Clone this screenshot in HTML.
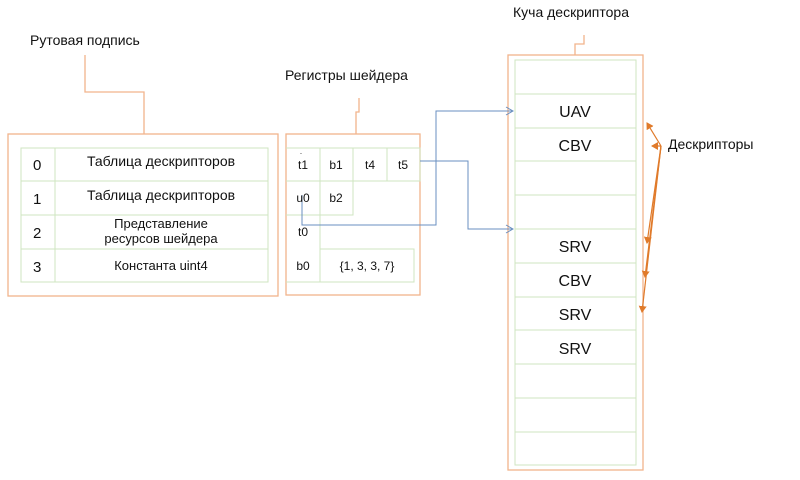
<!DOCTYPE html>
<html><head><meta charset="utf-8"><style>
body{margin:0;background:#fff;width:800px;height:475px;overflow:hidden}
svg text{font-family:"Liberation Sans",sans-serif;fill:#111}
</style></head><body>
<svg width="800" height="475" viewBox="0 0 800 475" xmlns="http://www.w3.org/2000/svg">
<defs>
<marker id="ba" markerWidth="10" markerHeight="10" refX="8" refY="5" orient="auto" markerUnits="userSpaceOnUse"><path d="M1,1 L8,5 L1,9" fill="none" stroke="#6a8fc0" stroke-width="1"/></marker>
<marker id="oa" markerWidth="8" markerHeight="8" refX="6" refY="4" orient="auto" markerUnits="userSpaceOnUse"><path d="M0,0 L7,4 L0,8 z" fill="#e07a2a"/></marker>
</defs>
<g fill="none" stroke="#f2b48c" stroke-width="1.3">
<rect x="8" y="134" width="270" height="162"/>
<rect x="286" y="134" width="134" height="161"/>
<rect x="508" y="55" width="135" height="415"/>
<path d="M85,55 V92 H144 V134"/>
<path d="M359,98 V112 H356 V134"/>
<path d="M584,35 V44 H575 V55"/>
</g>
<g fill="none" stroke="#cfe5c0" stroke-width="1">
<rect x="21" y="148" width="247" height="134"/>
<line x1="55" y1="148" x2="55" y2="282"/>
<line x1="21" y1="181" x2="268" y2="181"/>
<line x1="21" y1="215" x2="268" y2="215"/>
<line x1="21" y1="249" x2="268" y2="249"/>
<path d="M286,148 H420 V181 H353 V215 H320 V249 H414 V282 H286"/>
<line x1="286" y1="181" x2="353" y2="181"/>
<line x1="286" y1="215" x2="320" y2="215"/>
<line x1="320" y1="148" x2="320" y2="215"/>
<line x1="353" y1="148" x2="353" y2="181"/>
<line x1="387" y1="148" x2="387" y2="181"/>
<line x1="320" y1="249" x2="320" y2="282"/>
<rect x="515" y="60" width="121" height="405"/>
<path d="M515,94H636M515,128H636M515,161H636M515,195H636M515,229H636M515,263H636M515,297H636M515,330H636M515,364H636M515,398H636M515,432H636"/>
</g>
<g fill="none" stroke="#6a8fc0" stroke-width="1">
<path d="M420,161 H468 V229 H513" marker-end="url(#ba)"/>
<path d="M302,195 V225 H436 V111 H513" marker-end="url(#ba)"/>
</g>
<g fill="none" stroke="#e07a2a" stroke-width="1.2">
<path d="M661,146 L647,123" marker-end="url(#oa)"/>
<path d="M661,146 L652,146" marker-end="url(#oa)"/>
<path d="M661,146 L647,243" marker-end="url(#oa)"/>
<path d="M661,146 L645,277" marker-end="url(#oa)"/>
<path d="M661,146 L642,312" marker-end="url(#oa)"/>
</g>
<text x="30" y="45" font-size="14">Рутовая подпись</text>
<text x="285" y="80" font-size="14">Регистры шейдера</text>
<text x="513" y="17" font-size="14">Куча дескриптора</text>
<text x="668" y="149" font-size="14">Дескрипторы</text>
<g font-size="15"><text x="33" y="170">0</text><text x="33" y="204">1</text><text x="33" y="238">2</text><text x="33" y="272">3</text></g>
<g font-size="14" text-anchor="middle">
<text x="161" y="166">Таблица дескрипторов</text>
<text x="161" y="200">Таблица дескрипторов</text>
<text x="161" y="228" font-size="13">Представление</text>
<text x="161" y="243" font-size="13">ресурсов шейдера</text>
<text x="161" y="270" font-size="13">Константа uint4</text>
</g>
<g font-size="12" text-anchor="middle">
<text x="303" y="169">t1</text><text x="336" y="169">b1</text><text x="370" y="169">t4</text><text x="403" y="169">t5</text>
<text x="303" y="202">u0</text><text x="336" y="202">b2</text>
<text x="303" y="236">t0</text>
<text x="303" y="270">b0</text><text x="367" y="270">{1, 3, 3, 7}</text>
<text x="301" y="154" font-size="8">.</text>
</g>
<g font-size="16" text-anchor="middle">
<text x="575" y="117">UAV</text><text x="575" y="151">CBV</text>
<text x="575" y="252">SRV</text><text x="575" y="286">CBV</text>
<text x="575" y="320">SRV</text><text x="575" y="354">SRV</text>
</g>
</svg>
</body></html>
